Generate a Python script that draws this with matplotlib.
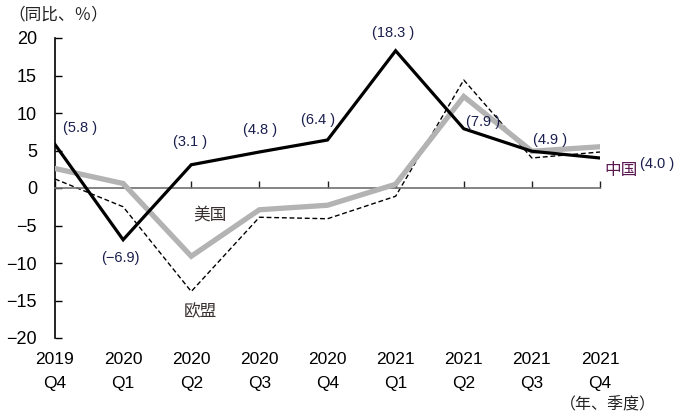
import matplotlib
matplotlib.use("Agg")
import matplotlib.pyplot as plt
import matplotlib.transforms as mtransforms

plt.rcParams['font.family'] = ['Liberation Sans', 'Noto Sans CJK SC', 'DejaVu Sans']

years = ["2019", "2020", "2020", "2020", "2020", "2021", "2021", "2021", "2021"]
quarters = ["Q4", "Q1", "Q2", "Q3", "Q4", "Q1", "Q2", "Q3", "Q4"]
china = [5.8, -6.9, 3.1, 4.8, 6.4, 18.3, 7.9, 4.9, 4.0]
usa = [2.6, 0.6, -9.1, -2.9, -2.3, 0.5, 12.2, 4.9, 5.5]
eu = [1.2, -2.5, -13.8, -3.9, -4.1, -1.1, 14.4, 4.0, 4.8]
china_labels = ["(5.8 )", "(−6.9)", "(3.1 )", "(4.8 )", "(6.4 )", "(18.3 )", "(7.9 )", "(4.9 )", "(4.0 )"]
yticks = [-20, -15, -10, -5, 0, 5, 10, 15, 20]

fig = plt.figure(figsize=(6.8, 4.2), dpi=100)
ax = fig.add_axes([55/680, 1-338/420, 545/680, 300/420])
x = list(range(len(china)))

ax.plot(x, eu, color='black', lw=1.0, ls=(0, (3.5, 2)), zorder=2)
ax.plot(x, usa, color='#b3b3b3', lw=3.8, zorder=3, solid_joinstyle='miter')
ax.plot(x, china, color='black', lw=2.3, zorder=4, solid_joinstyle='miter')

ax.set_xlim(0, 8)
ax.set_ylim(-20, 20)
ax.set_yticks(yticks)
ax.set_yticklabels([str(v).replace('-', '−') for v in yticks])
ax.tick_params(axis='y', direction='in', length=5, width=1, labelsize=13, pad=13)
for s in ['top', 'right']:
    ax.spines[s].set_visible(False)
ax.spines['left'].set_linewidth(1.2)
ax.spines['bottom'].set_position(('data', 0))
ax.spines['bottom'].set_color('#707070')
ax.spines['bottom'].set_linewidth(1.2)
ax.set_xticks(x)
ax.set_xticklabels([])
ax.tick_params(axis='x', direction='in', length=5, width=1, color='#202020')

trans = mtransforms.blended_transform_factory(ax.transData, ax.transAxes)
for xi, (yr, q) in enumerate(zip(years, quarters)):
    ax.text(xi, -0.07, yr, transform=trans, ha='center', va='center', fontsize=12.5)
    ax.text(xi, -0.153, q, transform=trans, ha='center', va='center', fontsize=12.5)

lab_col = '#1a1f4d'
lab_pos = [(80, 128), (120, 258), (190, 142), (260, 130), (318, 120), (393, 33), (483, 122), (550, 140)]
for (px, py), t in zip(lab_pos, china_labels[:-1]):
    fig.text(px/680, 1-py/420, t, ha='center', va='center', fontsize=10.5, color=lab_col,
             family=['Liberation Sans Narrow', 'Liberation Sans'])
fig.text(640/680, 1-164/420, china_labels[-1], ha='left', va='center', fontsize=10.5, color=lab_col,
         family=['Liberation Sans Narrow', 'Liberation Sans'])

fig.text(621/680, 1-171/420, "中国", ha='center', va='center', fontsize=12, color='#5a1850',
         family=['Noto Sans CJK SC'])
fig.text(210/680, 1-215/420, "美国", ha='center', va='center', fontsize=12, color='#3a3030',
         family=['Noto Sans CJK SC'])
fig.text(200/680, 1-312/420, "欧盟", ha='center', va='center', fontsize=12, color='#3a3030',
         family=['Noto Sans CJK SC'])
fig.text(8/680, 1-15/420, "（同比、％）", ha='left', va='center', fontsize=12, color='#222222',
         family=['Noto Sans CJK SC'])
fig.text(560/680, 1-405/420, "（年、季度）", ha='left', va='center', fontsize=11.5, color='#222222',
         family=['Noto Sans CJK SC'])

fig.savefig("out.png", dpi=100)
